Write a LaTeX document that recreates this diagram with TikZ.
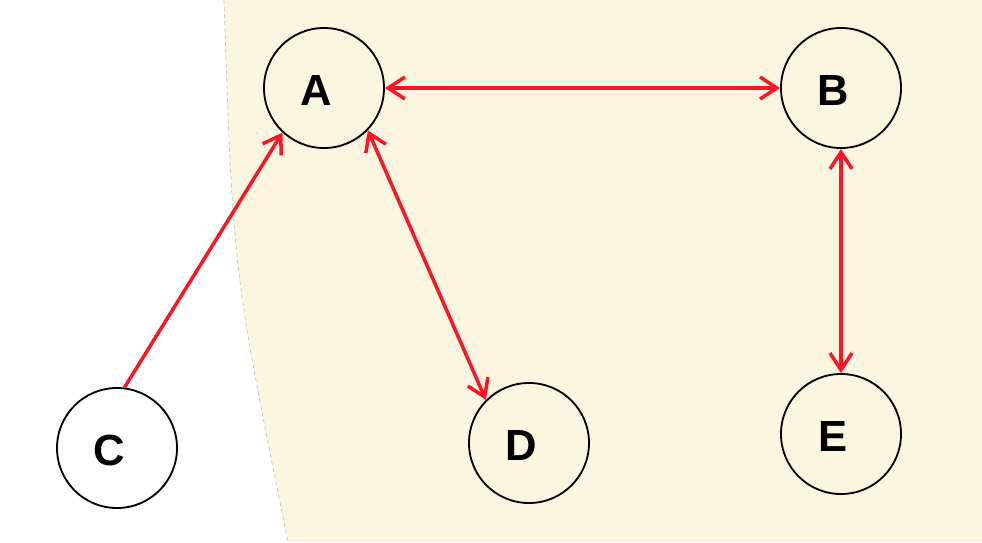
\documentclass[tikz,border=0pt]{standalone}
\usepackage{fontspec}
\setmainfont{Liberation Sans}
\usetikzlibrary{arrows.meta}
\definecolor{cream}{RGB}{252,246,224}
\definecolor{linkred}{RGB}{250,22,38}
\begin{document}
\begin{tikzpicture}[x=0.025cm, y=-0.025cm,
      vertex/.style = {shape=circle, inner sep=0pt, minimum size=3cm, draw, line width=1.3pt, fill=cream},
      every label/.style = {font=\bfseries\fontsize{31}{31}\selectfont, inner sep=0pt, xshift=-0.2cm, yshift=-0.05cm},
      link/.style = {draw=linkred, line width=2.5pt},
      barb/.tip = {Straight Barb[length=0.42cm, width=0.55cm, line width=2.5pt]}]
    \useasboundingbox (0,0) rectangle (982,542);
    % backdrop
    \fill[cream] (224,0) .. controls (233,271) .. (288,542) -- (982,542) -- (982,0) -- cycle;
    \draw[gray!45, densely dashed, line width=0.5pt] (224,0) .. controls (233,271) .. (288,542);
    % vertices
    \node[vertex, label=center:A] (A) at (324,88) {};
    \node[vertex, label=center:B] (B) at (841,88) {};
    \node[vertex, fill=white, label=center:C] (C) at (117,448) {};
    \node[vertex, label=center:D] (D) at (529,443) {};
    \node[vertex, label=center:E] (E) at (841,434) {};
    % links
    \draw[link, barb-barb] (A.east) -- (B.west);
    \draw[link, barb-barb] (A.-44) -- (D.135);
    \draw[link, barb-barb] (B.south) -- (E.north);
    \draw[link, -barb] (C.83) -- (A.-133);
\end{tikzpicture}
\end{document}
